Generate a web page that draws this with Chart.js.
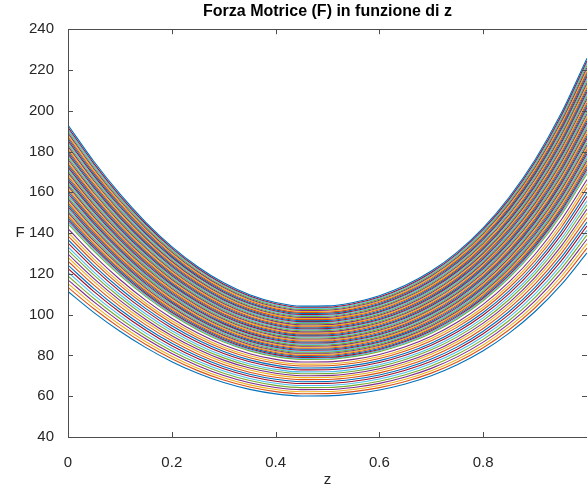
<!DOCTYPE html>
<html>
<head>
<meta charset="utf-8">
<script src="https://cdn.jsdelivr.net/npm/chart.js@4"></script>
<style>
  html, body { margin: 0; padding: 0; background: #fff; overflow: hidden; }
  canvas { display: block; }
</style>
</head>
<body>
<canvas id="forzaChart" width="587" height="489"></canvas>
<script>
// z sample points
const zValues = [0, 0.05, 0.1, 0.15, 0.2, 0.25, 0.3, 0.35, 0.4, 0.45, 0.5,
                 0.55, 0.6, 0.65, 0.7, 0.75, 0.8, 0.85, 0.9, 0.95, 1.0];

// upper curve (minimum ~104)
const topProfile = [193.0, 175.1, 159.2, 145.3, 133.4, 123.5, 115.6, 109.8, 106.0, 104.2, 104.3,
                    106.0, 109.3, 114.4, 121.4, 130.7, 142.6, 157.6, 176.0, 198.6, 225.8];
const topMinimum = 104;

// minimum of every curve, bottom to top
const curveMinima = [
    60.0, 61.1, 62.1, 63.1, 64.1, 65.1, 66.1, 67.0, 68.0, 69.0, 69.9, 70.9, 71.8, 72.8, 73.7, 74.7, 75.6, 76.6,
    77.9, 78.4, 78.9, 79.4, 79.9, 80.4, 80.9, 81.4, 81.9, 82.4, 82.9, 83.4, 83.9, 84.4, 84.9, 85.4, 85.9,
    86.4, 86.9, 87.4, 87.9, 88.4, 88.9, 89.4, 89.9, 90.4, 90.9, 91.4, 91.9, 92.4, 92.9, 93.4, 93.9, 94.4,
    94.9, 95.4, 95.9, 96.4, 96.9, 97.4, 97.9, 98.4, 98.9, 99.4, 99.9, 100.4, 100.9, 101.4, 101.9, 102.4,
    102.9, 103.4, 104.0
];

const xTicks = [0, 0.2, 0.4, 0.6, 0.8, 1];
const yTicks = [40, 60, 80, 100, 120, 140, 160, 180, 200, 220, 240];

// MATLAB default color order
const lineColors = ['#0072BD', '#D95319', '#EDB120', '#7E2F8E', '#77AC30', '#4DBEEE', '#A2142F'];

const axisColor = '#262626';
const fontFamily = 'Liberation Sans, Arial, sans-serif';

// ======================================
// box + inward ticks like MATLAB axes, upright y label
// ======================================
const boxPlugin = {
    id: 'matlabBox',
    afterDraw(chart) {
        const { ctx, chartArea: a, scales } = chart;
        ctx.save();
        ctx.strokeStyle = '#4d4d4d';
        ctx.lineWidth = 1;
        ctx.beginPath();
        ctx.rect(Math.round(a.left) + 0.5, Math.round(a.top) + 0.5,
                 Math.round(a.right - a.left), Math.round(a.bottom - a.top));
        xTicks.forEach(v => {
            const px = Math.round(scales.x.getPixelForValue(v)) + 0.5;
            ctx.moveTo(px, a.bottom);
            ctx.lineTo(px, a.bottom - 5);
            ctx.moveTo(px, a.top);
            ctx.lineTo(px, a.top + 5);
        });
        yTicks.forEach(v => {
            const py = Math.round(scales.y.getPixelForValue(v)) + 0.5;
            ctx.moveTo(a.left, py);
            ctx.lineTo(a.left + 5, py);
            ctx.moveTo(a.right, py);
            ctx.lineTo(a.right - 5, py);
        });
        ctx.stroke();

        ctx.fillStyle = axisColor;
        ctx.font = '15px ' + fontFamily;
        ctx.textAlign = 'center';
        ctx.textBaseline = 'middle';
        ctx.fillText('F', 20, (a.top + a.bottom) / 2);
        ctx.restore();
    }
};

function buildDatasets() {
    return curveMinima.map((m, i) => ({
        label: 'F ' + (i + 1),
        data: zValues.map((z, j) => ({ x: z, y: topProfile[j] * m / topMinimum })),
        borderColor: lineColors[i % lineColors.length],
        borderWidth: 1.1,
        pointRadius: 0,
        pointHoverRadius: 0,
        fill: false,
        cubicInterpolationMode: 'monotone',
        order: curveMinima.length - i
    }));
}

function createForzaChart() {
    const ctx = document.getElementById('forzaChart');
    if (!ctx) return;

    new Chart(ctx, {
        type: 'line',
        data: { datasets: buildDatasets() },
        plugins: [boxPlugin],
        options: {
            responsive: false,
            animation: false,
            devicePixelRatio: 1,
            layout: { autoPadding: false, padding: { top: 0, right: 0, bottom: 0, left: 0 } },
            plugins: {
                legend: { display: false },
                tooltip: { enabled: false },
                title: {
                    display: true,
                    fullSize: false,
                    text: 'Forza Motrice (F) in funzione di z',
                    color: '#000',
                    font: { family: fontFamily, size: 16, weight: 'bold' },
                    padding: { top: 2, bottom: 8 }
                }
            },
            scales: {
                x: {
                    type: 'linear',
                    min: 0,
                    max: 1,
                    afterFit: s => { s.height = 52; s.paddingLeft = 0; s.paddingRight = 0; },
                    afterBuildTicks: s => { s.ticks = xTicks.map(v => ({ value: v })); },
                    grid: { display: false },
                    border: { display: false },
                    ticks: {
                        color: axisColor,
                        padding: 9,
                        maxRotation: 0,
                        font: { family: fontFamily, size: 15 },
                        callback: v => (v === 1 ? '' : v)
                    },
                    title: {
                        display: true,
                        text: 'z',
                        color: axisColor,
                        font: { family: fontFamily, size: 15 },
                        padding: { top: 0, bottom: 0 }
                    }
                },
                y: {
                    min: 40,
                    max: 240,
                    afterFit: s => { s.width = 68; },
                    afterBuildTicks: s => { s.ticks = yTicks.map(v => ({ value: v })); },
                    grid: { display: false },
                    border: { display: false },
                    ticks: {
                        color: axisColor,
                        padding: 6,
                        font: { family: fontFamily, size: 15 }
                    }
                }
            }
        }
    });
}

document.addEventListener('DOMContentLoaded', createForzaChart);
</script>
</body>
</html>
